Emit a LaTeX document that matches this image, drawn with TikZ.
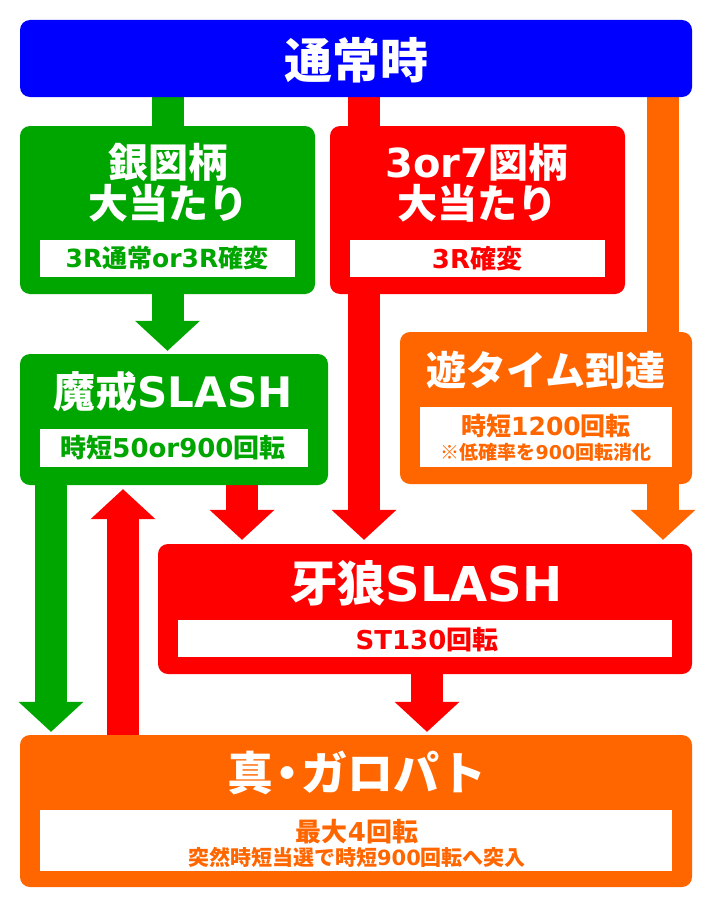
\documentclass[tikz,border=0pt]{standalone}
\usepackage{fontspec}
\setmainfont{Noto Sans CJK JP}
\newfontfamily\latf{DejaVu Sans}
\usetikzlibrary{arrows.meta,backgrounds,calc}
\definecolor{cblue}{RGB}{0,0,255}
\definecolor{cgreen}{RGB}{0,166,0}
\definecolor{cred}{RGB}{255,0,0}
\definecolor{corange}{RGB}{255,102,0}
\newcommand\Lt[1]{{\latf\bfseries #1}}
\newcommand\fs[1]{\fontsize{#1}{#1}\selectfont\bfseries}
\begin{document}
\begin{tikzpicture}[x=1pt,y=-1pt,
  panel/.style={rounded corners=10pt, inner sep=0pt, draw=none},
  subbox/.style={fill=white, inner sep=0pt, draw=none},
  ttl/.style={text=white, inner sep=0pt},
  lbl/.style={inner sep=0pt},
  bar/.style={line width=32pt},
  blk/.style={line width=32pt, -{Triangle[width=65pt,length=30pt,line width=0pt]}},
]
\useasboundingbox (0,0) rectangle (712,907);
% panels
\node[panel, fill=cblue, minimum width=672pt, minimum height=77pt] (top) at (356,58.5) {};
\node[panel, fill=cgreen, minimum width=295pt, minimum height=168pt] (gin) at (167.5,210) {};
\node[panel, fill=cred, minimum width=295pt, minimum height=168pt] (sanor) at (477.5,210) {};
\node[panel, fill=cgreen, minimum width=308pt, minimum height=131pt] (makai) at (174,419.5) {};
\node[panel, fill=corange, minimum width=292pt, minimum height=152pt] (yu) at (546,408) {};
\node[panel, fill=cred, minimum width=534pt, minimum height=130pt] (garo) at (425,609) {};
\node[panel, fill=corange, minimum width=672pt, minimum height=152pt] (shin) at (356,811) {};
% white label boxes
\node[subbox, minimum width=255pt, minimum height=37pt] (ginsub) at (167.5,258.5) {};
\node[subbox, minimum width=255pt, minimum height=37pt] (sanorsub) at (477.5,258.5) {};
\node[subbox, minimum width=268pt, minimum height=38pt] (makaisub) at (174,448) {};
\node[subbox, minimum width=252pt, minimum height=60pt] (yusub) at (546,437) {};
\node[subbox, minimum width=494pt, minimum height=37pt] (garosub) at (425,638.5) {};
\node[subbox, minimum width=632pt, minimum height=61pt] (shinsub) at (356,840.5) {};
% titles
\node[ttl, font=\fs{48}] (toptxt) at (356,60) {通常時};
\node[ttl, font=\fs{40}] (gin1) at (168,162) {銀図柄};
\node[ttl, font=\fs{40}] (gin2) at (168,203) {大当たり};
\node[ttl, font=\fs{40}] (san1) at (477,162) {\Lt{3or7}図柄};
\node[ttl, font=\fs{40}] (san2) at (477,203) {大当たり};
\node[ttl, font=\fs{42}] (makaitxt) at (173,392) {魔戒\Lt{SLASH}};
\node[ttl, font=\fs{40}] (yutxt) at (546,370) {遊タイム到達};
\node[ttl, font=\fs{48}] (garotxt) at (426,583) {牙狼\Lt{SLASH}};
\node[ttl, font=\fs{46}] (shintxt) at (357,773) {真\kern-9pt・\kern-9ptガロパト};
% labels
\node[lbl, text=cgreen, font=\fs{25}] (ginlbl) at (167,258.5) {\Lt{3R}通常\Lt{or3R}確変};
\node[lbl, text=cred, font=\fs{26}] (sanlbl) at (477,258.5) {\Lt{3R}確変};
\node[lbl, text=cgreen, font=\fs{26}] (makailbl) at (173,448) {時短\Lt{50or900}回転};
\node[lbl, text=corange, font=\fs{25}] (yulbl1) at (546,426) {時短\Lt{1200}回転};
\node[lbl, text=corange, font=\fs{19}] (yulbl2) at (546,452) {※低確率を\Lt{900}回転消化};
\node[lbl, text=cred, font=\fs{26}] (garolbl) at (427,640) {\Lt{ST130}回転};
\node[lbl, text=corange, font=\fs{26}] (shinlbl1) at (357,832) {最大\Lt{4}回転};
\node[lbl, text=corange, font=\fs{21}] (shinlbl2) at (357,857) {突然時短当選で時短\Lt{900}回転へ突入};
% connectors
\begin{scope}[on background layer]
\draw[bar,cgreen] (top.south -| gin.north) -- (gin.north);
\draw[bar,cred] (top.south -| 364,0) -- (sanor.north -| 364,0);
\draw[bar,corange] (top.south -| 663,0) -- (yu.north -| 663,0);
\draw[blk,cgreen] (gin.south) -- ($(makai.north -| gin.south)+(0,-3)$);
\draw[blk,cred] (sanor.south -| 364,0) -- ($(garo.north -| 364,0)+(0,-4)$);
\draw[blk,corange] (yu.south -| 663,0) -- ($(garo.north -| 663,0)+(0,-4)$);
\draw[blk,cred] (makai.south -| 242,0) -- ($(garo.north -| 242,0)+(0,-4)$);
\draw[blk,cgreen] (makai.south -| 51,0) -- ($(shin.north -| 51,0)+(0,-3)$);
\draw[blk,cred] (shin.north -| 123,0) -- ($(makai.south -| 123,0)+(0,4)$);
\draw[blk,cred] (garo.south -| 427,0) -- ($(shin.north -| 427,0)+(0,-3)$);
\end{scope}
\end{tikzpicture}
\end{document}
